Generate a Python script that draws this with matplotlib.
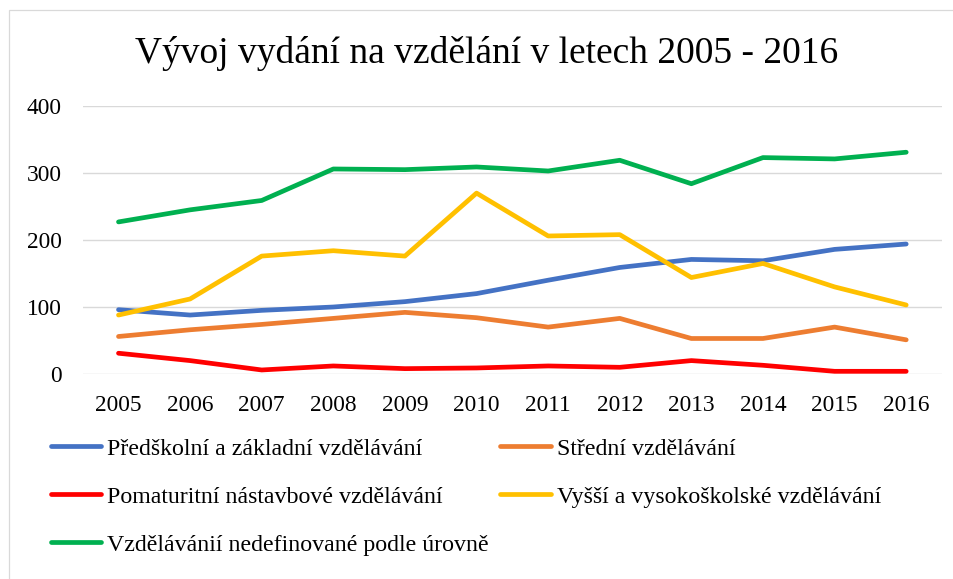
import matplotlib
matplotlib.use("Agg")
import matplotlib.pyplot as plt
import matplotlib.patches as mpatches

plt.rcParams['font.family'] = ['Liberation Serif', 'DejaVu Serif']

years = ["2005", "2006", "2007", "2008", "2009", "2010",
         "2011", "2012", "2013", "2014", "2015", "2016"]

predskolni = [96, 88, 95, 100, 108, 120, 140, 159, 171, 169, 186, 194]
stredni = [56, 66, 74, 83, 92, 84, 70, 83, 53, 53, 70, 51]
pomaturitni = [31, 20, 6, 12, 8, 9, 12, 10, 20, 13, 4, 4]
vyssi = [88, 112, 176, 184, 176, 270, 206, 208, 144, 165, 130, 103]
nedefinovane = [227, 245, 259, 306, 305, 309, 303, 319, 284, 323, 321, 331]

series = [
    ("Předškolní a základní vzdělávání", predskolni, "#4472C4"),
    ("Střední vzdělávání", stredni, "#ED7D31"),
    ("Pomaturitní nástavbové vzdělávání", pomaturitni, "#FF0000"),
    ("Vyšší a vysokoškolské vzdělávání", vyssi, "#FFC000"),
    ("Vzdělávánií nedefinované podle úrovně", nedefinovane, "#00B050"),
]

W, H = 954, 579
fig = plt.figure(figsize=(W / 100, H / 100), dpi=100)
ax = fig.add_axes([82.7 / W, 1 - 374 / H, (942 - 82.7) / W, (374 - 106) / H])

# chart area border (cropped at right/bottom in the original)
fig.patches.append(mpatches.Rectangle((9 / W, -0.1), 1.2, 1 - 10 / H + 0.1,
                                      transform=fig.transFigure, fill=False,
                                      edgecolor="#d9d9d9", linewidth=0.9))

x = list(range(len(years)))
handles = {}
for label, vals, color in series:
    line, = ax.plot(x, vals, color=color, linewidth=3.4, solid_capstyle="round",
                    solid_joinstyle="round", label=label, zorder=3)
    handles[label] = line

ax.set_xlim(-0.5, len(years) - 0.5)
ax.set_ylim(0, 400)
ax.set_yticks([0, 100, 200, 300, 400])
ax.set_xticks(x)
ax.set_xticklabels(years)
ax.yaxis.grid(True, color="#d9d9d9", linewidth=1.0)
ax.set_axisbelow(True)
for s in ax.spines.values():
    s.set_visible(False)
ax.tick_params(axis="both", length=0, labelsize=16.8, colors="#000000")
ax.tick_params(axis="y", pad=15)
ax.tick_params(axis="x", pad=15)

fig.text(487 / W, 1 - 63.3 / H, "Vývoj vydání na vzdělání v letech 2005 - 2016",
         ha="center", va="baseline", fontsize=27)

# legend filled column-wise: left column, then right column
order = [series[0][0], series[2][0], series[4][0], series[1][0], series[3][0]]
fig.legend([handles[k] for k in order], order, ncol=2, frameon=False,
           loc="upper left", bbox_to_anchor=(50.6 / W, 1 - 438 / H),
           fontsize=17.2, borderpad=0, borderaxespad=0,
           handlelength=2.13, handletextpad=0.25, columnspacing=0.45,
           labelspacing=1.1)

fig.savefig("out.png", dpi=100)
